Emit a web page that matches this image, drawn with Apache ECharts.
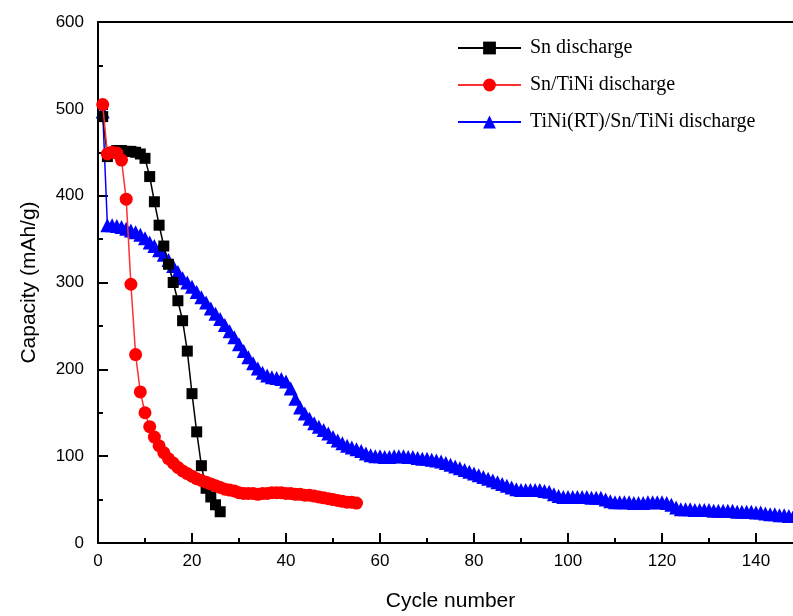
<!DOCTYPE html>
<html>
<head>
<meta charset="utf-8">
<script src="https://cdn.jsdelivr.net/npm/echarts@6/dist/echarts.min.js"></script>
<style>
  body { margin: 0; background: #fff; }
  #main { width: 793px; height: 616px; }
</style>
</head>
<body>
<div id="main"></div>
<script>
// capacity (mAh/g) for every cycle
var snDischarge = [491, 445, 450, 452, 452, 451, 451, 450, 448, 443,
  422, 393, 366, 342, 321, 300, 279, 256, 221, 172,
  128, 89, 63, 53, 44, 36];

var snTiNiDischarge = [505, 448, 450, 449, 441, 396, 298, 217, 174, 150,
  134, 122, 112, 104, 97, 92, 87, 83, 80, 77,
  74, 72, 70, 68, 66, 64, 62, 61, 60, 58,
  57, 57, 57, 56, 57, 57, 58, 58, 58, 57,
  57, 56, 56, 55, 55, 54, 53, 52, 51, 50,
  49, 48, 47, 47, 46];

var tiniRtDischarge = [497, 366, 366, 365, 364, 362, 360, 358, 355, 351,
  346, 342, 337, 332, 326, 319, 312, 305, 300, 295,
  289, 283, 277, 270, 264, 258, 251, 244, 237, 229,
  221, 214, 207, 201, 196, 193, 191, 190, 189, 186,
  178, 166, 156, 149, 143, 138, 134, 130, 126, 122,
  118, 115, 112, 110, 108, 106, 103, 101, 100, 100,
  99, 99, 100, 100, 100, 99, 99, 98, 97, 97,
  96, 95, 94, 92, 90, 88, 86, 84, 82, 80,
  78, 76, 74, 72, 70, 68, 66, 64, 62, 61,
  61, 61, 61, 61, 60, 59, 56, 54, 53, 53,
  53, 53, 53, 53, 52, 52, 52, 50, 48, 47,
  47, 47, 47, 46, 46, 46, 47, 47, 47, 47,
  46, 44, 41, 39, 39, 39, 38, 38, 38, 38,
  37, 37, 37, 37, 37, 36, 36, 36, 36, 35,
  35, 34, 33, 33, 32, 32, 31, 31];

function toPairs(arr) {
  return arr.map(function (v, i) { return [i + 1, v]; });
}

var chart = echarts.init(document.getElementById('main'));

var tickFont = { color: '#000', fontSize: 17, fontFamily: 'Liberation Sans' };
var axisLine = { show: true, onZero: false, lineStyle: { color: '#000', width: 2 } };

var option = {
  backgroundColor: '#fff',
  animation: false,
  grid: { left: 98, top: 22, right: -10, bottom: 73, outerBoundsMode: 'none' },
  legend: {
    orient: 'vertical',
    left: 452,
    top: 33,
    itemWidth: 63,
    itemHeight: 16,
    itemGap: 17,
    textStyle: { color: '#000', fontSize: 20, fontFamily: 'Liberation Serif', padding: [0, 0, 0, 4] },
    data: ['Sn discharge', 'Sn/TiNi discharge', 'TiNi(RT)/Sn/TiNi discharge']
  },
  xAxis: [{
    type: 'value',
    min: 0,
    max: 150,
    interval: 20,
    name: 'Cycle number',
    nameLocation: 'middle',
    nameGap: 48,
    nameTextStyle: { color: '#000', fontSize: 21, fontFamily: 'Liberation Sans' },
    axisLine: axisLine,
    axisTick: { show: true, inside: true, length: 10, lineStyle: { color: '#000', width: 2 } },
    minorTick: { show: true, splitNumber: 2, length: 5, lineStyle: { color: '#000', width: 2 } },
    axisLabel: Object.assign({ margin: 10, showMaxLabel: false }, tickFont),
    splitLine: { show: false }
  }, {
    type: 'value',
    position: 'top',
    min: 0,
    max: 150,
    axisLine: axisLine,
    axisTick: { show: false },
    axisLabel: { show: false },
    splitLine: { show: false }
  }],
  yAxis: {
    type: 'value',
    min: 0,
    max: 600,
    interval: 100,
    name: 'Capacity (mAh/g)',
    nameLocation: 'middle',
    nameGap: 58,
    nameTextStyle: { color: '#000', fontSize: 21, fontFamily: 'Liberation Sans' },
    axisLine: axisLine,
    axisTick: { show: true, inside: true, length: 10, lineStyle: { color: '#000', width: 2 } },
    minorTick: { show: true, splitNumber: 2, length: 5, lineStyle: { color: '#000', width: 2 } },
    axisLabel: Object.assign({ margin: 14 }, tickFont),
    splitLine: { show: false }
  },
  series: [
    {
      name: 'TiNi(RT)/Sn/TiNi discharge',
      type: 'line',
      z: 2,
      data: toPairs(tiniRtDischarge),
      symbol: 'triangle',
      symbolSize: 14,
      color: '#0000ff',
      lineStyle: { color: '#0000ff', width: 1.5 },
      itemStyle: { color: '#0000ff' }
    },
    {
      name: 'Sn discharge',
      type: 'line',
      z: 3,
      data: toPairs(snDischarge),
      symbol: 'rect',
      symbolSize: 11,
      color: '#000',
      lineStyle: { color: '#000', width: 1.5 },
      itemStyle: { color: '#000' }
    },
    {
      name: 'Sn/TiNi discharge',
      type: 'line',
      z: 4,
      data: toPairs(snTiNiDischarge),
      symbol: 'circle',
      symbolSize: 13,
      color: '#ff0000',
      lineStyle: { color: '#ff3030', width: 1.5 },
      itemStyle: { color: '#ff0000' }
    }
  ]
};

chart.setOption(option);
</script>
</body>
</html>
